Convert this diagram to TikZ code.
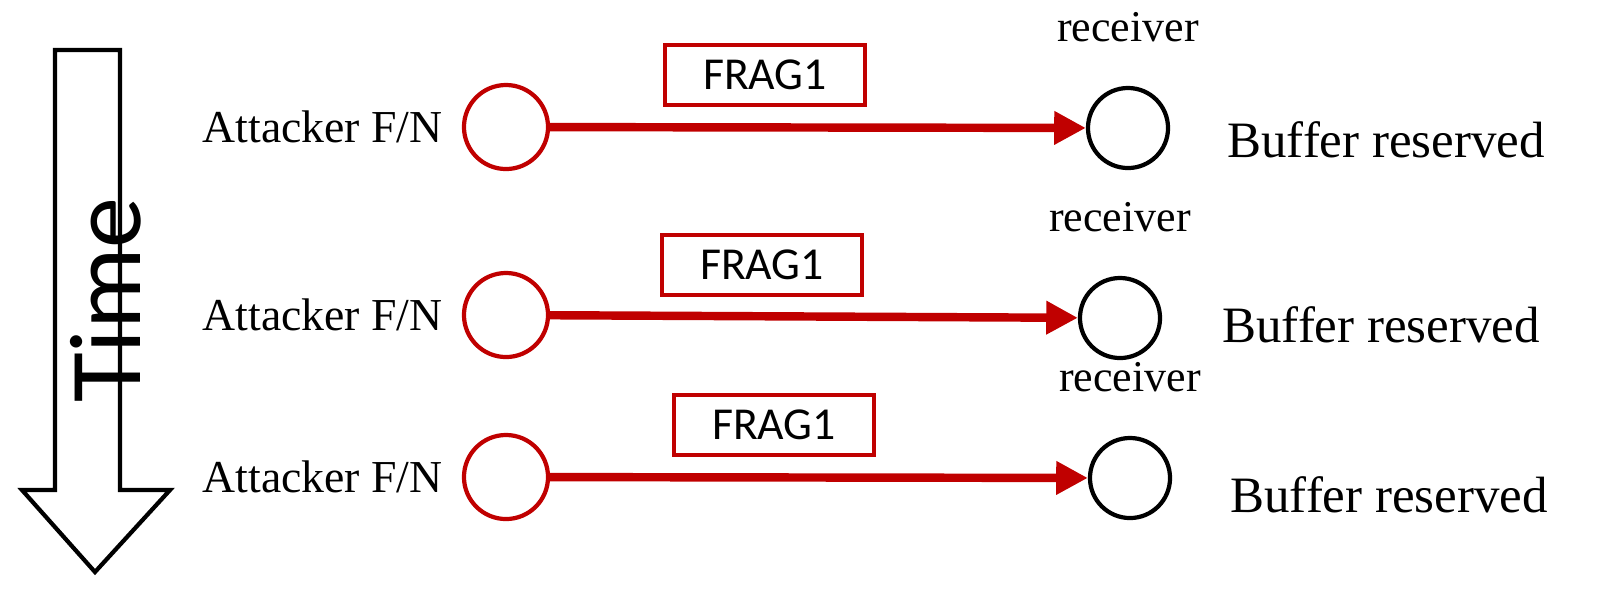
\documentclass[tikz,border=0pt]{standalone}
\usepackage{fontspec}
\setmainfont{Liberation Serif}
\newfontfamily\framefont{Carlito}
\usetikzlibrary{arrows.meta}
\definecolor{fragred}{HTML}{C00000}
\tikzset{
	sender/.style={circle, draw=fragred, line width=1.2pt, minimum size=0.84cm, inner sep=0pt},
	receiver/.style={circle, draw=black, line width=1.2pt, minimum size=0.8cm, inner sep=0pt},
	frame/.style={draw=fragred, line width=1pt, minimum width=2cm, minimum height=0.6cm, font=\framefont\fontsize{13}{15}\selectfont},
	send/.style={draw=fragred, line width=2.4pt, -{Triangle[length=9pt, width=9pt]}},
}
\begin{document}
\begin{tikzpicture}[x=0.01cm, y=-0.01cm]
	\useasboundingbox (0,0) rectangle (1609,608);

	% time arrow
	\draw[line width=1.2pt]
		(55,50) -- (120,50) -- (120,490) -- (170,490) -- (95,572)
		-- (22,490) -- (55,490) -- cycle;
	\node[rotate=90, font=\framefont\fontsize{29}{33}\selectfont]
		(time) at (106,300) {Time};

	% fragments
	\foreach \n/\ys/\xf/\yf/\xr/\yr/\xb/\yb in {
			1/127/765/75/1128/128/1215/140,
			2/315/762/265/1120/318/1210/325,
			3/477/774/425/1130/478/1218/495}{
		\node[sender] (att\n) at (506,\ys) {};
		\node[anchor=east, font=\fontsize{13}{15}\selectfont]
			(attlab\n) at (455,\ys) {Attacker F/N};
		\node[receiver] (rec\n) at (\xr,\yr) {};
		\node[font=\fontsize{12.5}{15}\selectfont, anchor=south]
			(reclab\n) at ([yshift=0.32cm]rec\n.north) {receiver};
		\node[anchor=west, font=\fontsize{14.5}{17}\selectfont]
			(buf\n) at (\xb,\yb) {Buffer reserved};
		\node[frame] (frag\n) at (\xf,\yf) {FRAG1};
		\draw[send] (att\n) -- (rec\n);
	}
\end{tikzpicture}
\end{document}
